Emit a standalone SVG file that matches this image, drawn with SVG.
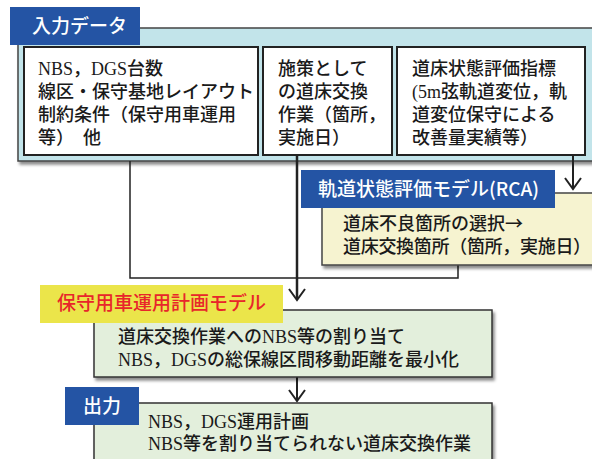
<svg xmlns="http://www.w3.org/2000/svg" width="592" height="459" viewBox="0 0 592 459">
<style>
.t{font-family:"Liberation Serif","Noto Sans CJK JP",serif;font-size:18px;font-weight:500;fill:#1a1a1a}
.h{font-family:"Noto Sans CJK JP","Liberation Sans",sans-serif;font-size:19px;font-weight:500;fill:#fff}
.inner{fill:#fff;stroke:#222;stroke-width:2}
.green{fill:#e3efdc;stroke:#333;stroke-width:1.5}
.ln{stroke:#222;fill:none}
.ah{stroke:#222;fill:none;stroke-width:2}
</style>
<defs>
<filter id="sh" x="-5%" y="-5%" width="115%" height="130%">
<feDropShadow dx="2" dy="3" stdDeviation="1.5" flood-color="#000" flood-opacity="0.45"/>
</filter>
</defs>
<rect width="592" height="459" fill="#fff"/>

<g id="input">
<rect x="18" y="28" width="580" height="133" fill="#c2e4ea" stroke="#444" stroke-width="1.5" filter="url(#sh)"/>
<rect x="10" y="7" width="130" height="38" fill="#2454a4"/>
<text class="h" x="32" y="33">入力データ</text>
</g>

<g id="box1">
<rect class="inner" x="24" y="47" width="234" height="108"/>
<text class="t" x="38" y="75">NBS，DGS台数</text>
<text class="t" x="38" y="98">線区・保守基地レイアウト</text>
<text class="t" x="38" y="121">制約条件（保守用車運用</text>
<text class="t" x="38" y="144">等）　他</text>
</g>

<g id="box2">
<rect class="inner" x="263" y="47" width="129" height="108"/>
<text class="t" x="278" y="75">施策として</text>
<text class="t" x="278" y="98">の道床交換</text>
<text class="t" x="278" y="121">作業（箇所，</text>
<text class="t" x="278" y="144">実施日）</text>
</g>

<g id="box3">
<rect class="inner" x="397" y="47" width="188" height="108"/>
<text class="t" x="412" y="75">道床状態評価指標</text>
<text class="t" x="412" y="98">(5m弦軌道変位，軌</text>
<text class="t" x="412" y="121">道変位保守による</text>
<text class="t" x="412" y="144">改善量実績等）</text>
</g>

<g id="connectors">
<polyline class="ln" stroke-width="1.5" points="130,161 130,278 458,278 458,265"/>
<line class="ln" stroke-width="2.5" x1="297" y1="155" x2="297" y2="299"/>
<polyline class="ah" points="289,289 297,300 305,289"/>
<line class="ln" stroke-width="2" x1="573" y1="155" x2="573" y2="188"/>
<polyline class="ah" points="565,178 573,189 581,178"/>
<line class="ln" stroke-width="2" x1="297" y1="377" x2="297" y2="400"/>
<polyline class="ah" points="289,390 297,401 305,390"/>
</g>

<g id="rca">
<rect x="322" y="193" width="280" height="72" fill="#f6f3d0" stroke="#444" stroke-width="1.5" filter="url(#sh)"/>
<rect x="301" y="170" width="254" height="38" fill="#2454a4"/>
<text class="h" x="318" y="196">軌道状態評価モデル(RCA)</text>
<text class="t" x="343" y="230">道床不良箇所の選択<tspan font-family="Noto Sans CJK JP,sans-serif">→</tspan></text>
<text class="t" x="343" y="253" letter-spacing="-0.3">道床交換箇所（箇所，実施日）</text>
</g>

<g id="plan">
<rect class="green" x="94" y="310" width="398" height="67" filter="url(#sh)"/>
<rect x="40" y="285" width="243" height="38" fill="#ebe54a"/>
<text x="57" y="310" font-family="Noto Sans CJK JP,sans-serif" font-size="19" font-weight="500" fill="#e8262a">保守用車運用計画モデル</text>
<text class="t" x="118" y="343">道床交換作業へのNBS等の割り当て</text>
<text class="t" x="118" y="366">NBS，DGSの総保線区間移動距離を最小化</text>
</g>

<g id="output">
<rect class="green" x="94" y="403" width="398" height="70" filter="url(#sh)"/>
<rect x="65" y="387" width="74" height="38" fill="#2454a4"/>
<text class="h" x="83" y="413">出力</text>
<text class="t" x="148" y="428">NBS，DGS運用計画</text>
<text class="t" x="148" y="450">NBS等を割り当てられない道床交換作業</text>
</g>
</svg>
